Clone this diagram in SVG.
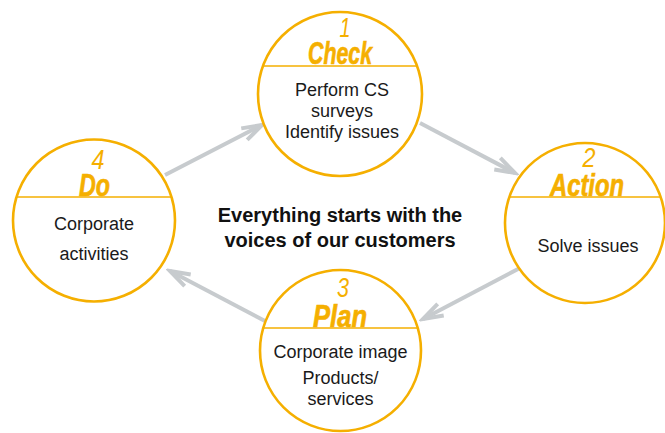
<svg xmlns="http://www.w3.org/2000/svg" width="665" height="433" viewBox="0 0 665 433">
<style>
.ring{fill:#fff;stroke:#F5AF00;stroke-width:2.6}
.chord{stroke:#F5AF00;stroke-width:1.6}
.num{font-family:"Liberation Sans",Arial,sans-serif;font-style:italic;font-size:27px;fill:#F5AF00;text-anchor:middle}
.ttl{font-family:"Liberation Sans Narrow","Liberation Sans",Arial,sans-serif;font-style:italic;font-weight:bold;font-size:31px;fill:#F5AF00;stroke:#F5AF00;stroke-width:0.7;text-anchor:middle}
.body{font-family:"Liberation Sans",Arial,sans-serif;font-size:18px;fill:#1a1a1a;text-anchor:middle}
.center{font-family:"Liberation Sans",Arial,sans-serif;font-weight:bold;font-size:20px;fill:#111;text-anchor:middle}
.arr{stroke:#C7CBCE;stroke-width:4;fill:none;marker-end:url(#chev)}
</style>
<defs>
<marker id="chev" viewBox="-26 -12 30 24" refX="0" refY="0" markerWidth="30" markerHeight="24" markerUnits="userSpaceOnUse" orient="auto">
<path d="M-20,-6.5 L0,0 L-20,6.5" fill="none" stroke="#C7CBCE" stroke-width="4"/>
</marker>
</defs>
<g id="connectors">
<line class="arr" x1="165" y1="175" x2="262" y2="125"/>
<line class="arr" x1="420" y1="123" x2="515" y2="173"/>
<line class="arr" x1="520" y1="268" x2="423" y2="319"/>
<line class="arr" x1="265" y1="321" x2="170" y2="271"/>
</g>
<g id="check">
<circle class="ring" cx="340" cy="94" r="82"/>
<line class="chord" x1="263" y1="66" x2="418" y2="66"/>
<text class="num" x="345" y="37" textLength="11" lengthAdjust="spacingAndGlyphs">1</text>
<text class="ttl" x="340" y="64" textLength="64" lengthAdjust="spacingAndGlyphs">Check</text>
<text class="body" x="342" y="95.5">Perform CS</text>
<text class="body" x="342" y="116.5">surveys</text>
<text class="body" x="342" y="138">Identify issues</text>
</g>
<g id="action">
<circle class="ring" cx="585" cy="223" r="80"/>
<line class="chord" x1="509" y1="197" x2="661" y2="197"/>
<text class="num" x="589" y="167" textLength="13" lengthAdjust="spacingAndGlyphs">2</text>
<text class="ttl" x="587" y="196" textLength="74" lengthAdjust="spacingAndGlyphs">Action</text>
<text class="body" x="588" y="251.5">Solve issues</text>
</g>
<g id="plan">
<circle class="ring" cx="340.5" cy="350.5" r="80.5"/>
<line class="chord" x1="263" y1="328" x2="418" y2="328"/>
<text class="num" x="343" y="297" textLength="12" lengthAdjust="spacingAndGlyphs">3</text>
<text class="ttl" x="340" y="327" textLength="54" lengthAdjust="spacingAndGlyphs">Plan</text>
<text class="body" x="340.5" y="357.5">Corporate image</text>
<text class="body" x="340.5" y="384">Products/</text>
<text class="body" x="340.5" y="405">services</text>
</g>
<g id="do">
<circle class="ring" cx="94" cy="220.5" r="81"/>
<line class="chord" x1="17" y1="197" x2="171" y2="197"/>
<text class="num" x="98" y="169" textLength="13" lengthAdjust="spacingAndGlyphs">4</text>
<text class="ttl" x="94.5" y="196" textLength="31" lengthAdjust="spacingAndGlyphs">Do</text>
<text class="body" x="94" y="230">Corporate</text>
<text class="body" x="94" y="259.5">activities</text>
</g>
<g id="headline">
<text class="center" x="340" y="222">Everything starts with the</text>
<text class="center" x="340" y="247">voices of our customers</text>
</g>
</svg>
